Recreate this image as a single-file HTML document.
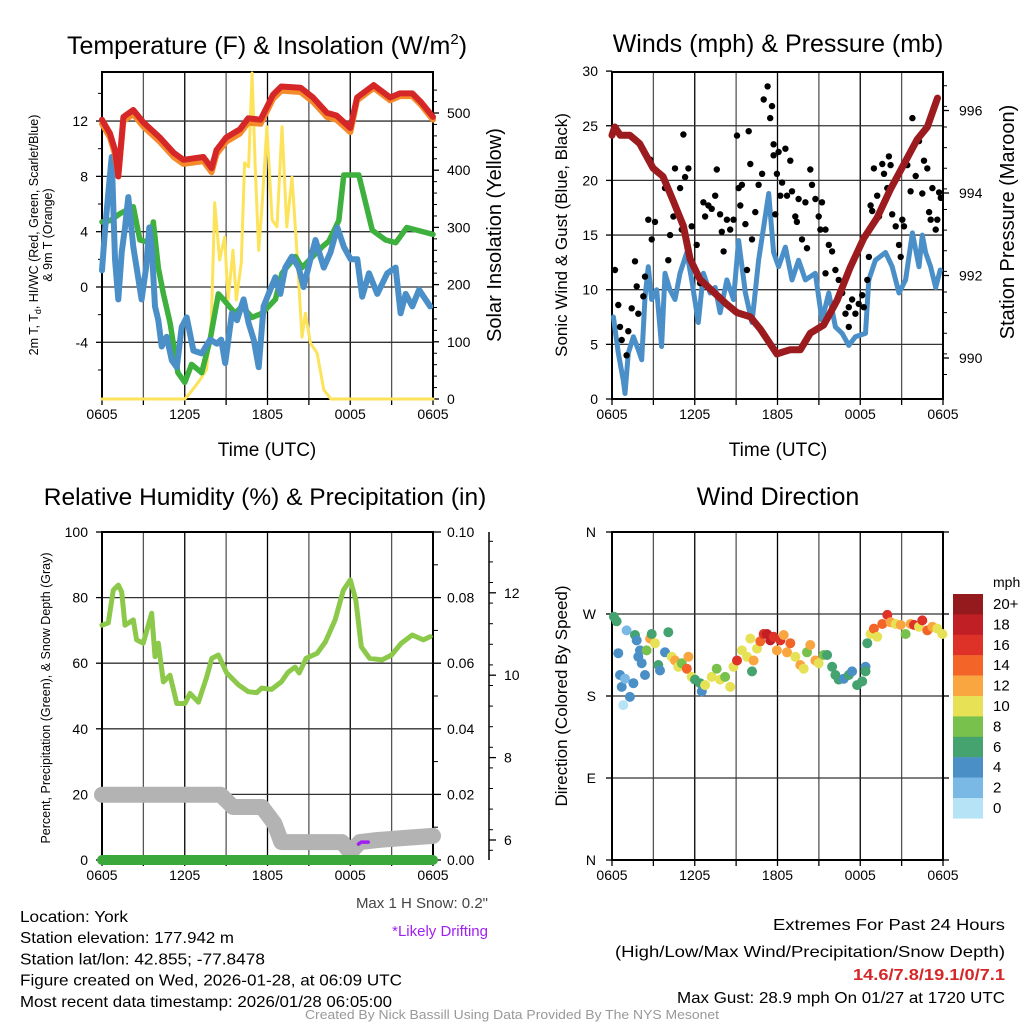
<!DOCTYPE html>
<html><head><meta charset="utf-8"><style>
body{margin:0;background:#fff;}
svg{display:block;font-family:"Liberation Sans",sans-serif;}
</style></head><body>
<svg id="s" width="1024" height="1024" viewBox="0 0 1024 1024"></svg>
<script>
// ---- Data ----
const tempHours=[0,0.58,0.94,1.18,1.55,2.27,3.0,4.2,5.2,5.9,7.35,7.95,8.3,9.0,10.0,10.6,11.5,12.4,13.0,14.4,15.3,16.3,17.0,18.0,18.5,19.7,20.9,21.6,22.5,23.1,24];
const tempRed=[12.1,11.1,9.9,8.0,12.3,12.8,11.9,10.8,9.7,9.2,9.4,8.6,9.9,10.8,11.4,12.2,12.1,13.9,14.5,14.4,13.7,12.6,12.4,11.5,13.7,14.6,13.7,14.0,14.0,13.4,12.3];
const tempOrange=[11.8,10.8,9.6,8.0,12.0,12.5,11.6,10.5,9.4,8.9,9.1,8.3,9.6,10.5,11.1,11.9,11.8,13.6,14.2,14.1,13.4,12.3,12.1,11.2,13.5,14.4,13.5,13.8,13.8,13.2,12.1];
const hiHours=[0,0.58,1.3,2.27,2.75,3.48,3.72,4.08,4.45,4.94,5.5,6.0,6.5,7.23,7.84,8.44,8.8,9.64,10.15,10.88,11.6,12.57,13.05,14.02,14.5,15.96,16.44,17.17,17.53,18.62,19.6,20.57,21.3,22.1,24];
const hiGreen=[4.7,4.8,5.3,5.8,3.4,3.2,4.7,1.4,-0.5,-2.6,-6.2,-6.9,-5.6,-6.2,-3.8,-0.5,-0.9,-1.9,-1.4,-2.2,-1.9,-0.9,1.0,2.2,1.4,2.9,3.3,4.8,8.1,8.1,4.1,3.4,3.2,4.3,3.8];
const dewHours=[0,0.22,0.46,0.7,0.94,1.18,1.43,1.67,1.91,2.27,2.51,2.87,3.2,3.43,3.6,3.84,4.08,4.33,4.69,5.06,5.42,5.78,6.14,6.63,7.23,7.84,8.33,8.64,8.93,9.42,9.79,10.27,10.63,11.0,11.36,11.72,12.08,12.57,12.93,13.29,13.77,14.26,14.62,15.11,15.48,16.08,16.57,17.06,17.54,18.03,18.51,18.87,19.36,19.96,20.69,21.29,21.65,22.02,22.5,22.99,23.8];
const dewBlue=[1.2,4.1,6.8,9.4,2.0,-0.9,2.5,4.3,6.5,2.9,1.4,-0.9,1.4,4.3,2.9,-1.4,-2.4,-4.3,-3.6,-5.3,-5.8,-2.9,-2.2,-4.6,-4.8,-3.8,-4.1,-3.8,-5.5,-1.9,-2.4,-0.9,-2.6,-3.8,-5.8,-1.4,-0.5,0.7,-0.5,1.4,2.2,1.4,0,2.0,3.4,1.4,2.5,4.3,2.9,2.0,2.0,-0.7,1.0,-0.5,1.0,1.4,-1.9,-0.5,-1.4,-0.2,-1.4];
const solHours=[0,6.0,6.37,7.09,7.57,7.93,8.17,8.53,8.9,9.14,9.5,9.74,10.1,10.34,10.63,10.88,11.11,11.36,11.6,11.96,12.33,12.69,13.05,13.4,13.78,14.14,14.5,14.75,15.11,15.6,16.08,16.6,24];
const solar=[0,0,10,33,51,138,343,243,283,173,260,173,238,413,406,570,406,260,336,476,313,301,476,301,388,255,108,150,98,80,16,0,0];

const presHours=[0,0.2,0.6,1.3,2.0,2.98,3.7,4.45,5.18,5.66,6.39,7.36,8.33,9.06,10.03,10.75,11.96,12.93,13.66,14.38,15.35,16.32,17.28,18.25,19.22,20.2,21.17,22.13,22.86,23.6];
const pressure=[995.4,995.6,995.4,995.4,995.2,994.6,994.4,993.8,993.2,992.4,991.9,991.6,991.3,991.1,991.0,990.7,990.1,990.2,990.2,990.6,990.8,991.4,992.2,992.9,993.4,994.1,994.7,995.3,995.6,996.3];
const windHours=[0.1,0.46,0.82,0.94,1.18,1.55,1.91,2.15,2.39,2.63,2.87,3.24,3.6,3.84,4.2,4.57,4.93,5.42,5.78,6.26,6.63,7.11,7.48,7.84,8.33,8.81,9.18,9.67,10.15,10.63,10.99,11.36,11.72,12.08,12.57,13.05,13.53,14.02,14.74,15.23,15.72,16.2,16.69,17.17,17.65,18.38,18.62,19.1,19.83,20.32,20.81,21.29,21.78,22.26,22.5,22.74,23.1,23.47,23.8];
const windSpeed=[7.5,4.2,1.7,0.5,4.2,5.7,4.5,3.6,9.3,12.1,9.1,10.0,4.8,11.5,10.0,9.1,11.5,13.4,10.9,7.0,11.5,9.7,10.2,7.9,10.9,9.1,14.5,9.7,7.0,12.7,15.7,18.8,13.4,12.1,13.9,10.9,12.7,10.9,11.5,7.2,9.7,6.6,6.0,4.9,5.7,6.0,10.9,12.7,13.4,12.1,9.7,10.9,15.2,12.1,15.0,13.4,12.1,10.2,11.8];
const gustHours=[0.22,0.46,0.58,0.7,1.06,1.18,1.43,1.67,1.79,1.91,2.27,2.39,2.63,2.88,3.12,2.76,3.84,4.08,4.21,4.45,4.57,4.94,5.06,5.18,5.3,5.54,5.78,6.14,6.39,6.63,6.75,6.99,7.23,7.48,7.6,7.84,7.96,8.09,8.33,8.57,8.81,9.06,9.18,9.42,9.3,9.67,9.79,9.91,10.03,10.15,10.39,10.63,10.88,11.0,11.28,11.47,11.6,11.72,11.72,11.84,11.96,12.08,12.2,12.33,12.57,12.69,12.93,13.05,13.29,13.41,13.53,13.78,14.02,14.14,14.38,14.5,14.75,14.99,15.11,15.23,15.48,15.72,15.96,16.2,16.44,15.48,16.69,16.93,17.17,17.41,17.65,17.89,18.14,18.26,17.17,18.51,18.63,18.75,18.87,18.99,19.23,19.36,19.6,19.72,19.96,20.08,20.2,20.32,20.57,20.81,20.93,21.05,21.17,21.41,21.65,21.78,22.02,22.26,22.5,22.62,22.86,22.99,23.11,23.23,23.47,23.59,23.72,23.84];
const gustSpeed=[11.8,8.6,6.6,5.4,4.0,6.2,8.3,12.6,10.3,7.8,9.4,11.2,16.4,14.6,16.2,21.9,19.3,12.7,15.0,16.7,21.1,19.3,15.5,24.2,20.3,21.1,15.8,14.1,10.6,18.0,16.7,17.7,17.4,18.6,21.0,16.9,15.3,13.5,16.4,15.5,16.4,24.1,19.3,19.6,17.7,16.0,11.8,24.5,21.5,14.6,17.1,19.6,20.6,27.4,28.6,25.7,26.8,23.3,22.3,16.9,20.6,22.6,18.6,19.8,22.9,18.6,21.8,19.0,16.7,16.2,18.3,14.6,18.0,13.8,21.0,19.6,18.3,16.7,15.5,18.0,15.5,14.1,13.5,11.8,10.9,11.5,9.7,7.8,8.4,9.1,7.8,8.7,9.5,8.4,6.6,10.9,13.0,17.7,17.2,21.1,18.6,16.7,21.5,20.6,19.3,22.2,21.4,16.9,15.8,14.1,13.0,16.4,15.8,21.4,19.0,25.7,20.4,23.6,18.8,21.8,21.1,17.1,16.4,19.3,15.5,16.4,18.9,18.4];

const rhHours=[0,0.46,0.82,1.18,1.43,1.67,2.27,2.51,2.99,3.6,3.84,4.08,4.45,4.93,5.42,6.02,6.38,6.99,7.59,7.96,8.44,9.04,9.89,10.61,11.22,11.58,12.3,13.0,13.5,14.0,14.3,14.8,15.6,16.2,16.9,17.5,18.0,18.4,18.8,19.4,20.3,21.0,21.7,22.5,23.3,23.8];
const rh=[71.6,72.3,82.3,83.8,81.7,71.6,73.2,67.1,66.1,75.2,62.0,66.1,54.3,56.3,47.7,47.7,50.8,48.1,55.8,61.5,62.5,57.0,53.4,51.3,51.0,52.4,52.0,54.3,57.3,58.8,57.0,61.5,63.0,66.5,73.2,82.3,85.4,79.3,65.0,61.5,61.0,62.5,66.1,68.6,67.1,68.1];
const snowHours=[0,8.6,9.5,11.6,12.5,13.0,17.4,18.0,18.7,20.0,22.0,24];
const snowDepth=[7.1,7.1,6.8,6.8,6.4,5.95,5.95,5.7,5.95,6.0,6.05,6.1];
const precipHours=[0,24];
const precip=[0,0];
const driftHours=[18.6,18.8,19.3];
const driftDepth=[5.9,5.95,5.95];

const dirHours=[0.14,0.33,0.46,0.58,0.7,0.82,0.94,1.06,1.3,1.55,1.67,1.79,1.91,2.03,2.15,2.39,2.51,2.76,2.88,3.12,3.36,3.48,3.84,4.08,4.33,4.57,4.81,5.06,5.42,5.54,5.78,6.02,6.39,6.51,6.75,7.23,7.59,7.84,8.2,8.57,8.81,9.06,9.42,9.79,10.03,10.15,10.27,10.51,10.75,11.0,11.24,11.48,11.72,11.96,12.2,12.45,12.69,12.93,13.29,13.65,13.9,14.14,14.38,14.75,14.99,15.35,15.6,15.96,16.2,16.44,16.81,17.17,17.41,17.77,18.14,18.38,18.38,18.51,18.75,18.99,19.23,19.6,19.96,20.2,20.57,20.93,21.29,21.65,21.9,22.26,22.5,22.86,23.23,23.59,23.96];
const dirDeg=[267,262,227,203,190,170,199,252,179,194,247,241,223,230,216,203,230,243,248,238,214,208,228,250,223,219,212,216,210,223,201,198,194,185,192,201,210,198,201,190,212,219,230,223,243,207,219,232,240,248,248,241,245,230,241,247,228,238,223,214,210,228,236,219,216,225,225,212,203,198,199,203,207,192,196,212,207,238,248,254,245,259,269,261,259,258,248,259,258,256,263,252,256,254,248];
const dirSpeed=[6,6,4,4,4,1,2,2,4,4,7,4,4,4,4,5,8,12,7,10,6,4,4,7,10,12,10,8,14,12,10,6,7,5,10,10,8,10,8,10,10,16,10,10,10,6,12,10,14,17,18,18,17,12,16,12,12,14,10,12,10,8,12,12,10,8,7,6,7,6,5,6,4,6,6,4,6,6,10,14,10,14,16,12,10,12,8,12,16,10,17,14,12,10,10];
const cbLabels=["20+","18","16","14","12","10","8","6","4","2","0"];
const cbColors=["#951a1d","#c11f26","#de3127","#f26428","#f9a640","#e6e155","#79c14d","#45a36f","#4a8fc6","#7ab9e5","#b7e3f7"];
const timeTicks=["0605","1205","1805","0005","0605"];

// ---- Helpers ----
const S=document.getElementById('s');const NS='http://www.w3.org/2000/svg';
function el(tag,at,parent){const e=document.createElementNS(NS,tag);for(const k in at)e.setAttribute(k,at[k]);(parent||S).appendChild(e);return e;}
function txt(x,y,s,size,anchor,extra,name){const t=el('text',Object.assign({x:x,y:y,'font-size':size,'text-anchor':anchor||'start',fill:'#000'},extra||{}));t.textContent=s;

return t;}
function line(x1,y1,x2,y2,c,w,name){const l=el('line',{x1:x1,y1:y1,x2:x2,y2:y2,stroke:c,'stroke-width':w});

return l;}
function poly(xs,ys,fx,fy,c,w,name){const p=xs.map((h,i)=>fx(h).toFixed(1)+','+fy(ys[i]).toFixed(1)).join(' ');const e=el('polyline',{points:p,fill:'none',stroke:c,'stroke-width':w,'stroke-linejoin':'round','stroke-linecap':'round'});

return e;}

function frame(x0,x1,y0,y1,hy,name){
  const g=el('g',{});
  for(let k=1;k<8;k++){const x=x0+(x1-x0)*k/8;line(x,y0,x,y1,k%2?'#555':'#000',1.3,'vertical-grid');}
  hy.forEach(y=>line(x0,y,x1,y,'#333',1.3,'horizontal-grid'));
  el('rect',{x:x0,y:y0,width:x1-x0,height:y1-y0,fill:'none',stroke:'#000','stroke-width':2});
  for(let k=0;k<=8;k++){const x=x0+(x1-x0)*k/8;line(x,y1,x,y1+6,'#000',1.3,'x-tick');}
  timeTicks.forEach((s,i)=>txt(x0+(x1-x0)*i/4,y1+20,s,14,'middle',{},'x-tick-label'));
}

// ---- Panel 1 ----
const P1={x0:102,x1:433,y0:72,y1:399};
const hx1=h=>P1.x0+h*(P1.x1-P1.x0)/24;
const ty=v=>287-v*13.83;
const sy=v=>399-v*0.572;
frame(P1.x0,P1.x1,P1.y0,P1.y1,[ty(12),ty(8),ty(4),ty(0),ty(-4)],'temperature-panel');
[12,8,4,0,-4].forEach(v=>{line(P1.x0-6,ty(v),P1.x0,ty(v),'#000',1.3,'y-tick');txt(P1.x0-14,ty(v)+5,String(v),14,'end',{},'y-tick-label');});
[14,10,6,2,-2,-6].forEach(v=>line(P1.x0-4,ty(v),P1.x0,ty(v),'#000',1,'y-minor-tick'));
[0,100,200,300,400,500].forEach(v=>{line(P1.x1,sy(v),P1.x1+6,sy(v),'#000',1.3,'y2-tick');txt(P1.x1+14,sy(v)+5,String(v),14,'start',{},'y2-tick-label');});
for(let v=20;v<560;v+=20){if(v%100)line(P1.x1,sy(v),P1.x1+4,sy(v),'#000',1,'y2-minor-tick');}
poly(solHours,solar,hx1,sy,'#fde35a',3,'solar-insolation-line');
poly(hiHours,hiGreen,hx1,ty,'#3db03d',5.5,'heat-index-wind-chill-line');
poly(dewHours,dewBlue,hx1,ty,'#4b8fc8',6,'dewpoint-line');
poly(tempHours,tempOrange,hx1,ty,'#f58a2a',6,'temp-9m-line');
poly(tempHours,tempRed,hx1,ty,'#d62728',6,'temp-2m-line');
txt(267,54,'',25,'middle',{},'temperature-title').innerHTML='Temperature (F) &amp; Insolation (W/m<tspan font-size="15" dy="-10">2</tspan><tspan dy="10">)</tspan>';
txt(267,456,'Time (UTC)',19,'middle',{},'x-axis-title');
txt(0,0,'Solar Insolation (Yellow)',20,'middle',{transform:'translate(501,235) rotate(-90)'},'y2-axis-title');
const yl=txt(0,0,'',12.5,'middle',{transform:'translate(38,235) rotate(-90)'},'y-axis-title');
yl.innerHTML='2m T, T<tspan font-size="9" dy="3">d</tspan><tspan dy="-3">, HI/WC (Red, Green, Scarlet/Blue)</tspan>';
txt(0,0,'& 9m T (Orange)',12.5,'middle',{transform:'translate(52,235) rotate(-90)'},'y-axis-title-line2');

// ---- Panel 2 ----
const P2={x0:612,x1:943,y0:72,y1:399};
const hx2=h=>P2.x0+h*(P2.x1-P2.x0)/24;
const wy=v=>399-v*10.93;
const py=p=>358-(p-990)*41.25;
frame(P2.x0,P2.x1,P2.y0,P2.y1,[wy(5),wy(10),wy(15),wy(20),wy(25)],'winds-panel');
[0,5,10,15,20,25,30].forEach(v=>{line(P2.x0-6,wy(v),P2.x0,wy(v),'#000',1.3,'y-tick');txt(P2.x0-14,wy(v)+5,String(v),14,'end',{},'y-tick-label');});
[990,992,994,996].forEach(v=>{line(P2.x1,py(v),P2.x1+6,py(v),'#000',1.3,'y2-tick');txt(P2.x1+16,py(v)+5,String(v),14,'start',{},'y2-tick-label');});
for(let v=989.6;v<996.8;v+=0.5){line(P2.x1,py(v),P2.x1+4,py(v),'#000',1,'y2-minor-tick');}
poly(windHours,windSpeed,hx2,wy,'#4b8fc8',5,'sonic-wind-line');
gustHours.forEach((h,i)=>{const c=el('circle',{cx:hx2(h).toFixed(1),cy:wy(gustSpeed[i]).toFixed(1),r:3.2,fill:'#000'});

});
poly(presHours,pressure,hx2,py,'#9b1b1e',7,'station-pressure-line');
txt(778,52,'Winds (mph) & Pressure (mb)',25,'middle',{},'winds-title');
txt(778,456,'Time (UTC)',19,'middle',{},'x-axis-title');
txt(0,0,'Sonic Wind & Gust (Blue, Black)',17,'middle',{transform:'translate(567,235) rotate(-90)'},'y-axis-title');
txt(0,0,'Station Pressure (Maroon)',20,'middle',{transform:'translate(1014,222) rotate(-90)'},'y2-axis-title');

// ---- Panel 3 ----
const P3={x0:102,x1:433,y0:532,y1:860};
const hx3=h=>P3.x0+h*(P3.x1-P3.x0)/24;
const ry=v=>860-v*3.28;
const dy=v=>840-(v-6)*41.2;
frame(P3.x0,P3.x1,P3.y0,P3.y1,[ry(20),ry(40),ry(60),ry(80)],'humidity-panel');
[0,20,40,60,80,100].forEach(v=>{line(P3.x0-6,ry(v),P3.x0,ry(v),'#000',1.3,'y-tick');txt(P3.x0-14,ry(v)+5,String(v),14,'end',{},'y-tick-label');});
['0.00','0.02','0.04','0.06','0.08','0.10'].forEach((s,i)=>{const y=ry(i*20);line(P3.x1,y,P3.x1+8,y,'#000',1.3,'y2-tick');txt(P3.x1+14,y+5,s,14,'start',{},'y2-tick-label');});
for(let v=10;v<100;v+=20)line(P3.x1,ry(v),P3.x1+5,ry(v),'#000',1,'y2-minor-tick');
line(489,532,489,860,'#000',1.5,'snow-axis');
[6,8,10,12].forEach(v=>{line(489,dy(v),496,dy(v),'#000',1.3,'snow-tick');txt(504,dy(v)+5,String(v),14,'start',{},'snow-tick-label');});
for(let v=5.75;v<13.6;v+=0.5)line(489,dy(v),493,dy(v),'#000',1,'snow-minor-tick');
poly(snowHours,snowDepth,hx3,dy,'#b3b3b3',16,'snow-depth-line');
poly(driftHours,driftDepth,hx3,dy,'#a020f0',3.5,'drifting-line');
poly(rhHours,rh,hx3,ry,'#8cc94a',5,'relative-humidity-line');
poly(precipHours,precip,hx3,ry,'#3aa83a',10,'precipitation-line');
txt(265,505,'Relative Humidity (%) & Precipitation (in)',24.5,'middle',{},'humidity-title');
txt(0,0,'Percent, Precipitation (Green), & Snow Depth (Gray)',12.5,'middle',{transform:'translate(50,698) rotate(-90)'},'y-axis-title');
txt(488,908,'Max 1 H Snow: 0.2"',15,'end',{fill:'#444'},'max-snow-note');
txt(488,936,'*Likely Drifting',15,'end',{fill:'#a020f0'},'drifting-note');

// ---- Panel 4 ----
const P4={x0:612,x1:943,y0:532,y1:860};
const hx4=h=>P4.x0+h*(P4.x1-P4.x0)/24;
const ddy=d=>860-d*328/360;
frame(P4.x0,P4.x1,P4.y0,P4.y1,[ddy(90),ddy(180),ddy(270)],'wind-direction-panel');
['N','E','S','W','N'].forEach((s,i)=>{const y=ddy(i*90);line(P4.x0-6,y,P4.x0,y,'#000',1.3,'y-tick');txt(P4.x0-16,y+5,s,14,'end',{},'direction-tick-label');line(P4.x1,y,P4.x1+6,y,'#000',1.3,'y2-tick');});
function speedColor(s){const b=Math.min(10,Math.floor(s/2));return cbColors[10-b];}
dirHours.forEach((h,i)=>{const c=el('circle',{cx:hx4(h).toFixed(1),cy:ddy(dirDeg[i]).toFixed(1),r:5,fill:speedColor(dirSpeed[i])});

});
txt(778,505,'Wind Direction',25,'middle',{},'wind-direction-title');
txt(0,0,'Direction (Colored By Speed)',17,'middle',{transform:'translate(567,696) rotate(-90)'},'y-axis-title');
txt(993,587,'mph',14,'start',{},'colorbar-title');
cbColors.forEach((c,i)=>{const r=el('rect',{x:953,y:(594+i*20.4).toFixed(1),width:30,height:20.6,fill:c});


txt(993,594+i*20.4+15,cbLabels[i],15,'start',{},'colorbar-label');});

// ---- Footer ----
const left=['Location: York','Station elevation: 177.942 m','Station lat/lon: 42.855; -77.8478','Figure created on Wed, 2026-01-28, at 06:09 UTC','Most recent data timestamp: 2026/01/28 06:05:00'];
const lw=[108,214,245,382,372];
left.forEach((s,i)=>txt(20,922+i*21.2,s,16,'start',{textLength:lw[i],lengthAdjust:'spacingAndGlyphs'},'station-info-line'));
txt(1005,930,'Extremes For Past 24 Hours',16,'end',{textLength:232,lengthAdjust:'spacingAndGlyphs'},'extremes-title');
txt(1005,957,'(High/Low/Max Wind/Precipitation/Snow Depth)',16,'end',{textLength:390,lengthAdjust:'spacingAndGlyphs'},'extremes-legend');
txt(1005,980,'14.6/7.8/19.1/0/7.1',16,'end',{fill:'#d62728','font-weight':'bold',textLength:152,lengthAdjust:'spacingAndGlyphs'},'extremes-values');
txt(1005,1003,'Max Gust: 28.9 mph On 01/27 at 1720 UTC',16,'end',{textLength:328,lengthAdjust:'spacingAndGlyphs'},'max-gust');
txt(512,1019,'Created By Nick Bassill Using Data Provided By The NYS Mesonet',12.5,'middle',{fill:'#999',textLength:414,lengthAdjust:'spacingAndGlyphs'},'credit');
</script>
</body></html>
